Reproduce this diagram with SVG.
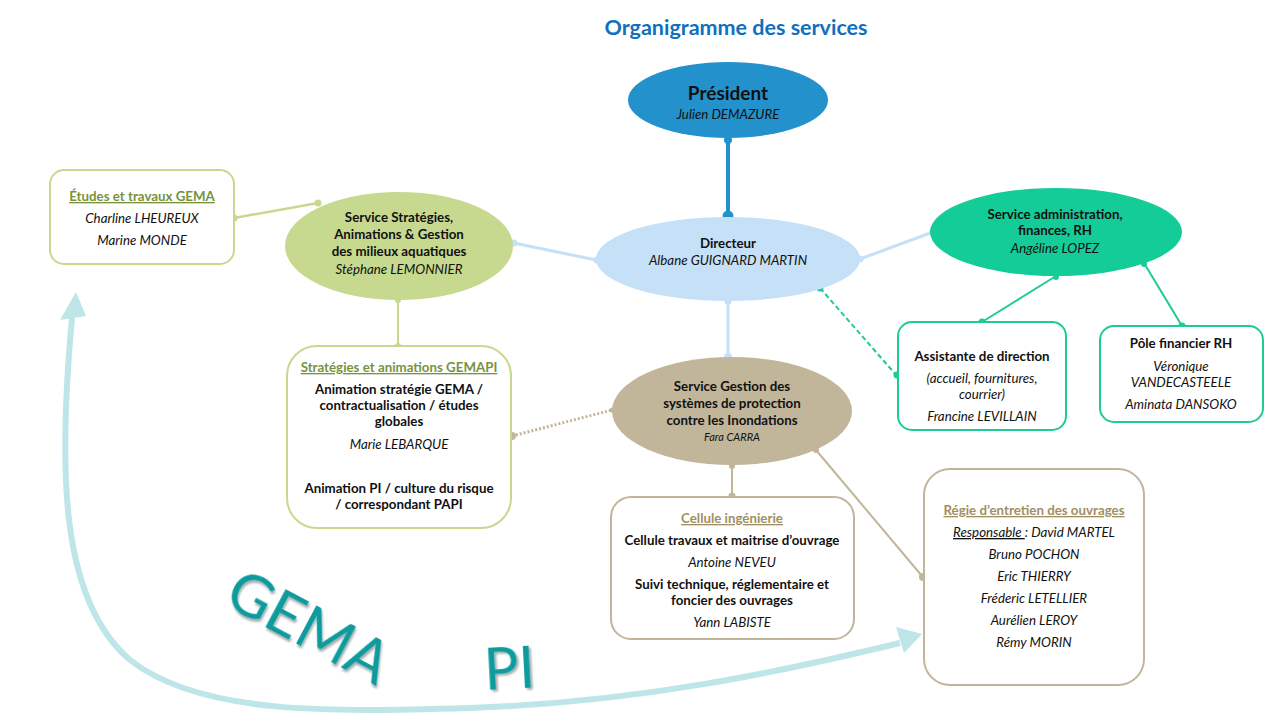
<svg xmlns="http://www.w3.org/2000/svg" width="1280" height="720" viewBox="0 0 1280 720">
<defs>
<style>
text{font-family:Lato,"Open Sans","Liberation Sans",sans-serif;text-anchor:middle;fill:#111}
.b{font-weight:bold;font-size:13.3px}
.i{font-style:italic;font-size:13.3px}
.u{text-decoration:underline;font-weight:bold;font-size:13.3px}
.box{fill:#fff;stroke-width:2}
.g{stroke:#C6D98E}
.t{stroke:#C1B59A}
.m{stroke:#1ECB97}
.big{fill:#0E9B9E;text-anchor:start}
</style>
<filter id="sh" x="-20%" y="-20%" width="140%" height="140%"><feDropShadow dx="2" dy="2" stdDeviation="1.2" flood-color="#000" flood-opacity="0.35"/></filter>
</defs>
<rect width="1280" height="720" fill="#fff"/>
<text x="736" y="35" style="font-size:21.5px;font-weight:bold;fill:#0F70BE">Organigramme des services</text>

<g id="connectors" fill="none">
<line x1="728" y1="138" x2="728" y2="216" stroke="#2391CC" stroke-width="4"/>
<circle cx="728" cy="140" r="4" fill="#2391CC"/>
<circle cx="728" cy="216" r="5.5" fill="#2391CC"/>
<line x1="596" y1="260" x2="514" y2="243" stroke="#C5E0F7" stroke-width="3"/>
<circle cx="514" cy="243" r="3.5" fill="#C5E0F7"/>
<circle cx="597" cy="260" r="3.5" fill="#C5E0F7"/>
<line x1="860" y1="259" x2="933" y2="232" stroke="#C5E0F7" stroke-width="3"/>
<circle cx="860" cy="259" r="3.5" fill="#C5E0F7"/>
<circle cx="933" cy="232" r="4" fill="#C5E0F7"/>
<line x1="728" y1="300" x2="728" y2="357" stroke="#C5E0F7" stroke-width="3"/>
<circle cx="728" cy="301" r="3.5" fill="#C5E0F7"/>
<circle cx="728" cy="357" r="4" fill="#C5E0F7"/>
<line x1="234" y1="218" x2="318" y2="203" stroke="#C6D98E" stroke-width="2.5"/>
<circle cx="234" cy="218" r="3.5" fill="#C6D98E"/>
<circle cx="318" cy="203" r="3.5" fill="#C6D98E"/>
<line x1="398" y1="300" x2="398" y2="346" stroke="#C6D98E" stroke-width="2"/>
<circle cx="398" cy="300" r="3" fill="#C6D98E"/>
<circle cx="398" cy="346" r="3" fill="#C6D98E"/>
<line x1="512" y1="436" x2="612" y2="410" stroke="#C1B59A" stroke-width="3" stroke-dasharray="2 2"/>
<circle cx="512" cy="436" r="4" fill="#C1B59A"/>
<circle cx="612" cy="410" r="2.5" fill="#C1B59A"/>
<line x1="732" y1="465" x2="732" y2="496" stroke="#C1B59A" stroke-width="2"/>
<circle cx="732" cy="466" r="3" fill="#C1B59A"/>
<circle cx="732" cy="496" r="3.5" fill="#C1B59A"/>
<line x1="816" y1="450" x2="922" y2="576" stroke="#C1B59A" stroke-width="2"/>
<circle cx="816" cy="450" r="3" fill="#C1B59A"/>
<circle cx="923" cy="577" r="4" fill="#C1B59A"/>
<line x1="1056" y1="276" x2="982" y2="322" stroke="#1ECB97" stroke-width="2"/>
<circle cx="1056" cy="277" r="3" fill="#1ECB97"/>
<circle cx="982" cy="322" r="3.5" fill="#1ECB97"/>
<line x1="1144" y1="263" x2="1182" y2="326" stroke="#1ECB97" stroke-width="2"/>
<circle cx="1144" cy="264" r="3" fill="#1ECB97"/>
<circle cx="1182" cy="326" r="3.5" fill="#1ECB97"/>
<line x1="820" y1="288" x2="897" y2="376" stroke="#1ECB97" stroke-width="2" stroke-dasharray="5 3"/>
<circle cx="820" cy="288" r="3.5" fill="#1ECB97"/>
<circle cx="897" cy="375" r="3.5" fill="#1ECB97"/>
<path d="M72,318 C58,470 60,600 130,660 C200,715 330,712 470,708 C640,702 780,672 900,643" stroke="#BEE5E8" stroke-width="6"/>
<polygon points="76,292 86,316 60,320" fill="#BEE5E8"/>
<polygon points="922,634 896,627 904,653" fill="#BEE5E8"/>
</g>

<g id="president">
<ellipse cx="728" cy="100" rx="100" ry="38" fill="#2391CC"/>
<text x="728" y="100" style="font-size:19px;font-weight:bold">Président</text>
<text x="728" y="119" class="i">Julien DEMAZURE</text>
</g>

<g id="directeur">
<ellipse cx="728" cy="259" rx="132" ry="42" fill="#C5E0F7"/>
<text x="728" y="248" class="b">Directeur</text>
<text x="728" y="265" class="i">Albane GUIGNARD MARTIN</text>
</g>

<g id="service-strategies">
<ellipse cx="399" cy="246" rx="114" ry="54" fill="#C6D98E"/>
<text x="399" y="222" class="b">Service Stratégies,</text>
<text x="399" y="239" class="b">Animations &amp; Gestion</text>
<text x="399" y="256" class="b">des milieux aquatiques</text>
<text x="399" y="274" class="i">Stéphane LEMONNIER</text>
</g>

<g id="etudes-gema">
<rect x="50" y="170" width="184" height="94" rx="14" class="box g"/>
<text x="142" y="201" class="u" style="fill:#77933C">Études et travaux GEMA</text>
<text x="142" y="223" class="i">Charline LHEUREUX</text>
<text x="142" y="245" class="i">Marine MONDE</text>
</g>

<g id="service-admin">
<ellipse cx="1056" cy="232" rx="126" ry="44" fill="#14CC98"/>
<text x="1055" y="219" class="b">Service administration,</text>
<text x="1055" y="235" class="b">finances, RH</text>
<text x="1055" y="253" class="i">Angéline LOPEZ</text>
</g>

<g id="assistante">
<rect x="898" y="322" width="168" height="108" rx="14" class="box m"/>
<text x="982" y="361" class="b">Assistante de direction</text>
<text x="982" y="383" class="i">(accueil, fournitures,</text>
<text x="982" y="399" class="i">courrier)</text>
<text x="982" y="421" class="i">Francine LEVILLAIN</text>
</g>

<g id="pole-financier">
<rect x="1100" y="326" width="163" height="96" rx="14" class="box m"/>
<text x="1181" y="348" class="b">Pôle financier RH</text>
<text x="1181" y="371" class="i">Véronique</text>
<text x="1181" y="387" class="i">VANDECASTEELE</text>
<text x="1181" y="409" class="i">Aminata DANSOKO</text>
</g>

<g id="strategies-gemapi">
<rect x="287" y="346" width="224" height="182" rx="30" class="box g"/>
<text x="399" y="372" class="u" style="fill:#77933C">Stratégies et animations GEMAPI</text>
<text x="399" y="394" class="b">Animation stratégie GEMA /</text>
<text x="399" y="410" class="b">contractualisation / études</text>
<text x="399" y="426" class="b">globales</text>
<text x="399" y="449" class="i">Marie LEBARQUE</text>
<text x="399" y="493" class="b">Animation PI / culture du risque</text>
<text x="399" y="509" class="b">/ correspondant PAPI</text>
</g>

<g id="service-pi">
<ellipse cx="732" cy="411" rx="120" ry="54" fill="#C1B59A"/>
<text x="732" y="391" class="b">Service Gestion des</text>
<text x="732" y="408" class="b">systèmes de protection</text>
<text x="732" y="425" class="b">contre les Inondations</text>
<text x="732" y="441" class="i" style="font-size:11px">Fara CARRA</text>
</g>

<g id="cellule-ingenierie">
<rect x="611" y="497" width="243" height="142" rx="20" class="box t"/>
<text x="732" y="523" class="u" style="fill:#A08F62">Cellule ingénierie</text>
<text x="732" y="545" class="b">Cellule travaux et maitrise d’ouvrage</text>
<text x="732" y="567" class="i">Antoine NEVEU</text>
<text x="732" y="589" class="b">Suivi technique, réglementaire et</text>
<text x="732" y="605" class="b">foncier des ouvrages</text>
<text x="732" y="627" class="i">Yann LABISTE</text>
</g>

<g id="regie">
<rect x="924" y="469" width="220" height="216" rx="26" class="box t"/>
<text x="1034" y="515" class="u" style="fill:#A08F62">Régie d’entretien des ouvrages</text>
<text x="1034" y="537" class="i"><tspan text-decoration="underline">Responsable </tspan>: David MARTEL</text>
<text x="1034" y="559" class="i">Bruno POCHON</text>
<text x="1034" y="581" class="i">Eric THIERRY</text>
<text x="1034" y="603" class="i">Fréderic LETELLIER</text>
<text x="1034" y="625" class="i">Aurélien LEROY</text>
<text x="1034" y="647" class="i">Rémy MORIN</text>
</g>

<g id="labels">
<text x="0" y="0" class="big" style="font-size:60px" filter="url(#sh)" transform="translate(222,604) rotate(28)">GEMA</text>
<text x="0" y="0" class="big" style="font-size:58px" filter="url(#sh)" transform="translate(485,690) rotate(-3)">PI</text>
</g>
</svg>
